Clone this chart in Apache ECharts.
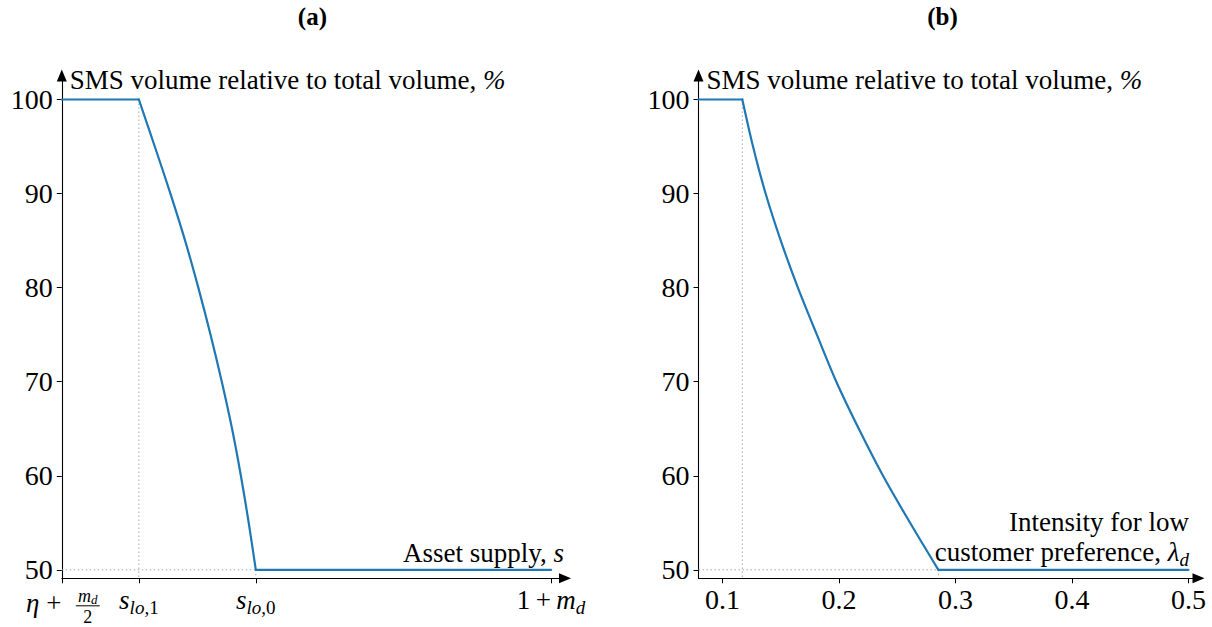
<!DOCTYPE html>
<html>
<head>
<meta charset="utf-8">
<script src="https://cdn.jsdelivr.net/npm/echarts@6/dist/echarts.min.js"></script>
<style>
  html, body { margin: 0; padding: 0; background: #ffffff; }
  #chart { width: 1212px; height: 627px; }
</style>
</head>
<body>
<div id="chart"></div>
<script>
// Panel (a): SMS share against asset supply s.
// The supply axis is normalised: eta + m_d/2 -> 0, 1 + m_d -> 1.
const supplyX     = [0, 0.1575, 0.19, 0.222, 0.252, 0.279, 0.304, 0.327, 0.348, 0.366, 0.382, 0.3965, 1];
const supplyShare = [100, 100, 95, 90, 85, 80, 75, 70, 65, 60, 55, 50, 50];
const supplyTicks = [0, 0.1575, 0.3965, 1];
const supplyRange = [0, 1.0284];

// Panel (b): SMS share against the intensity for low customer preference, lambda_d.
const lambdaX     = [0.0794, 0.117, 0.1262, 0.137, 0.150, 0.1647, 0.181, 0.1977, 0.217, 0.2378, 0.261, 0.2853, 0.5];
const lambdaShare = [100, 100, 95, 90, 85, 80, 75, 70, 65, 60, 55, 50, 50];
const lambdaTicks = [0.1, 0.2, 0.3, 0.4, 0.5];
const lambdaRange = [0.0794, 0.5086];

// Shared vertical scale (%)
const shareTicks = [50, 60, 70, 80, 90, 100];
const shareRange = [49.1, 102.55];

const SERIF = '"Liberation Serif", "Times New Roman", Times, serif';
const BLUE = '#1f77b4';
const GUIDE = '#a6a6a6';
const FS = 27;      // names and math labels
const TFS = 28;     // numeric tick labels

const rich = {
  rm:    { fontFamily: SERIF, fontSize: FS, color: '#000', lineHeight: 30 },
  it:    { fontFamily: SERIF, fontSize: FS, color: '#000', fontStyle: 'italic', lineHeight: 30 },
  subit: { fontFamily: SERIF, fontSize: 19, color: '#000', fontStyle: 'italic', lineHeight: 16, padding: [14, 0, 0, 0] },
  sub:   { fontFamily: SERIF, fontSize: 19, color: '#000', lineHeight: 16, padding: [14, 0, 0, 0] },
  // small-size pieces used in the stacked fraction
  fm:    { fontFamily: SERIF, fontSize: 18, color: '#000', fontStyle: 'italic', lineHeight: 21 },
  fd:    { fontFamily: SERIF, fontSize: 13, color: '#000', fontStyle: 'italic', lineHeight: 13, padding: [8, 0, 0, 0] },
  f2:    { fontFamily: SERIF, fontSize: 18, color: '#000', lineHeight: 21 }
};

const pairs = (xs, ys) => xs.map((x, i) => [x, ys[i]]);

// Supply tick labels in math notation (the first one is drawn as a stacked fraction below)
function supplyLabel(v) {
  if (Math.abs(v - supplyTicks[1]) < 1e-6) return '{it|s}{subit|lo}{sub|,1}';
  if (Math.abs(v - supplyTicks[2]) < 1e-6) return '{it|s}{subit|lo}{sub|,0}';
  if (Math.abs(v - supplyTicks[3]) < 1e-6) return '{rm|1\u2009+\u2009}{it|m}{subit|d}';
  return '';
}

function axisLineStyle() {
  return {
    show: true, onZero: false,
    symbol: ['none', 'triangle'], symbolSize: [10, 12],
    lineStyle: { color: '#000', width: 1.1 }
  };
}

function guide(xAxisIndex, pts) {
  return {
    type: 'line', xAxisIndex, yAxisIndex: xAxisIndex, data: pts,
    symbol: 'none', silent: true, z: 1,
    lineStyle: { color: GUIDE, width: 1, type: [1.5, 2.5] }
  };
}

// A share curve: flat at 100, the smooth decline, flat at 50
function curve(axisIndex, xs, ys) {
  const pts = pairs(xs, ys);
  const n = pts.length;
  const base = { type: 'line', xAxisIndex: axisIndex, yAxisIndex: axisIndex, z: 3, symbol: 'none',
                 lineStyle: { color: BLUE, width: 2.2, cap: 'round', join: 'round' } };
  return [
    Object.assign({}, base, { data: pts.slice(0, 2) }),
    Object.assign({}, base, { data: pts.slice(1, n - 1), smooth: 0.3 }),
    Object.assign({}, base, { data: pts.slice(n - 2) })
  ];
}

const s1 = supplyX[1], s0 = supplyX[supplyX.length - 2];
const l1 = lambdaX[1], l0 = lambdaX[lambdaX.length - 2];
const yLo = shareRange[0];

function yAxis(gridIndex) {
  return {
    type: 'value', gridIndex,
    min: shareRange[0], max: shareRange[1],
    name: '{rm|SMS volume relative to total volume, }{it|%}',
    nameLocation: 'end', nameGap: -4.5, nameMoveOverlap: false,
    nameTextStyle: { align: 'left', verticalAlign: 'middle', padding: [0, 0, 0, 8], rich },
    axisLine: axisLineStyle(),
    axisTick: { show: true, length: 5, customValues: shareTicks, lineStyle: { color: '#000', width: 1 } },
    axisLabel: { customValues: shareTicks, margin: 9, fontFamily: SERIF, fontSize: TFS, color: '#000' },
    splitLine: { show: false }
  };
}

const option = {
  backgroundColor: '#ffffff',
  animation: false,
  grid: [
    { left: 61.8, right: 647, top: 75.5, bottom: 48.7, containLabel: false },
    { left: 698.5, right: 13.5, top: 75.5, bottom: 48.7, containLabel: false }
  ],
  xAxis: [
    {
      type: 'value', gridIndex: 0,
      min: supplyRange[0], max: supplyRange[1],
      name: '{rm|Asset supply, }{it|s}',
      nameLocation: 'end', nameGap: -1, nameMoveOverlap: false,
      nameTextStyle: { align: 'right', verticalAlign: 'bottom', padding: [0, 0, 10, 0], rich },
      axisLine: axisLineStyle(),
      axisTick: { show: true, length: 5, customValues: supplyTicks, lineStyle: { color: '#000', width: 1 } },
      axisLabel: { customValues: supplyTicks, margin: 7, formatter: supplyLabel, rich },
      splitLine: { show: false }
    },
    {
      type: 'value', gridIndex: 1,
      min: lambdaRange[0], max: lambdaRange[1],
      name: '{rm|Intensity for low}\n{rm|customer preference, }{it|λ}{subit|d}',
      nameLocation: 'end', nameGap: -9.5, nameMoveOverlap: false,
      nameTextStyle: { align: 'right', verticalAlign: 'bottom', padding: [0, 0, 11, 0], rich },
      axisLine: axisLineStyle(),
      axisTick: { show: true, length: 5, customValues: lambdaTicks, lineStyle: { color: '#000', width: 1 } },
      axisLabel: { customValues: lambdaTicks, margin: 7, fontFamily: SERIF, fontSize: TFS, color: '#000',
                   formatter: v => String(Math.round(v * 10) / 10) },
      splitLine: { show: false }
    }
  ],
  yAxis: [yAxis(0), yAxis(1)],
  series: [
    guide(0, [[s1, 100], [s1, yLo]]),
    guide(0, [[supplyRange[0], 50], [s0, 50]]),
    guide(0, [[s0, 50], [s0, yLo]]),
    guide(1, [[l1, 100], [l1, yLo]]),
    guide(1, [[lambdaRange[0], 50], [l0, 50]]),
    guide(1, [[l0, 50], [l0, yLo]])
  ].concat(curve(0, supplyX, supplyShare), curve(1, lambdaX, lambdaShare))
};

const chart = echarts.init(document.getElementById('chart'), null, { renderer: 'svg' });
chart.setOption(option);

// Panel titles and the stacked-fraction label eta + m_d/2 at the supply axis origin
const origin = chart.convertToPixel({ gridIndex: 0 }, [supplyTicks[0], shareRange[0]]);
const ox = origin[0], oy = origin[1];
const txt = (x, y, text, size, extra) => ({
  type: 'text', x, y, silent: true,
  style: Object.assign({ text, fontFamily: SERIF, fontSize: size, fill: '#000',
                         align: 'center', verticalAlign: 'middle' }, extra || {})
});
const g0 = chart.convertToPixel({ gridIndex: 0 }, [supplyRange[0], shareRange[1]]);
const g0r = chart.convertToPixel({ gridIndex: 0 }, [supplyRange[1], shareRange[1]]);
const g1 = chart.convertToPixel({ gridIndex: 1 }, [lambdaRange[0], shareRange[1]]);
const g1r = chart.convertToPixel({ gridIndex: 1 }, [lambdaRange[1], shareRange[1]]);

chart.setOption({
  graphic: [
    txt((g0[0] + g0r[0]) / 2 - 1, 16, '(a)', 25, { fontWeight: 'bold' }),
    txt((g1[0] + g1r[0]) / 2 - 6, 16, '(b)', 25, { fontWeight: 'bold' }),
    txt(ox - 29, oy + 25, 'η', FS, { fontStyle: 'italic' }),
    txt(ox - 8, oy + 25, '+', FS),
    // numerator m_d over denominator 2, one text block
    txt(ox + 26, oy + 28, '{fm|m}{fd|d}\n{f2|2}', 18, { rich }),
    {
      type: 'line', silent: true,
      shape: { x1: ox + 14, y1: oy + 27.5, x2: ox + 38, y2: oy + 27.5 },
      style: { stroke: '#000', lineWidth: 1 }
    }
  ]
});
</script>
</body>
</html>
